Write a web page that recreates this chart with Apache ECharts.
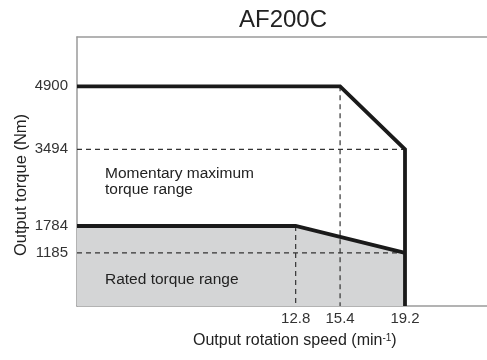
<!DOCTYPE html>
<html>
<head>
<meta charset="utf-8">
<script src="https://cdn.jsdelivr.net/npm/echarts@6/dist/echarts.min.js"></script>
<style>html,body{margin:0;padding:0;background:#fff}#c{width:487px;height:360px}</style>
</head>
<body>
<div id="c"></div>
<script>
// Data
var title = 'AF200C';
var yTicks = [1185, 1784, 3494, 4900];
var xTicks = [12.8, 15.4, 19.2];
var ratedCurve = [[0, 1784], [12.8, 1784], [19.2, 1185]];
var momentaryCurve = [[0, 4900], [15.4, 4900], [19.2, 3494], [19.2, 0]];
var guide3494 = [[0, 3494], [19.2, 3494]];
var guide1185 = [[0, 1185], [19.2, 1185]];
var guide128 = [[12.8, 1784], [12.8, 0]];
var guide154 = [[15.4, 4900], [15.4, 0]];
var labelMomentary = 'Momentary maximum\ntorque range';
var labelRated = 'Rated torque range';
var yName = 'Output torque (Nm)';

var FONT = '"Liberation Sans", Arial, Helvetica, sans-serif';
var chart = echarts.init(document.getElementById('c'), null, {renderer: 'canvas'});

function dashed(data) {
  return {
    type: 'line', data: data, symbol: 'none', silent: true, z: 3,
    lineStyle: {color: '#333', width: 1.2, type: [5, 4]}
  };
}

var option = {
  animation: false,
  backgroundColor: '#fff',
  grid: {left: 77, right: 0, top: 37, bottom: 54},
  xAxis: [{
    type: 'value', min: 0, max: 24,
    axisLine: {show: true, lineStyle: {color: '#9a9a9a', width: 1.5}},
    axisTick: {show: false},
    splitLine: {show: false},
    axisLabel: {customValues: xTicks, color: '#333', fontSize: 15, fontFamily: FONT, margin: 5,
      formatter: function (v) { return v.toFixed(1); }}
  }, {
    type: 'value', min: 0, max: 24, position: 'top',
    axisLine: {show: true, lineStyle: {color: '#9a9a9a', width: 1.5}},
    axisTick: {show: false}, axisLabel: {show: false}, splitLine: {show: false}
  }],
  yAxis: {
    type: 'value', min: 0, max: 6000,
    axisLine: {show: true, lineStyle: {color: '#9a9a9a', width: 1.5}},
    axisTick: {show: false},
    splitLine: {show: false},
    axisLabel: {customValues: yTicks, color: '#333', fontSize: 15, fontFamily: FONT, margin: 9,
      formatter: function (v) { return String(v); }}
  },
  series: [
    {
      type: 'line', data: ratedCurve, symbol: 'none', z: 1,
      lineStyle: {width: 0},
      areaStyle: {color: '#d4d5d6', opacity: 1}
    },
    dashed(guide3494),
    dashed(guide1185),
    dashed(guide128),
    dashed(guide154),
    {
      type: 'line', data: ratedCurve, symbol: 'none', z: 5,
      lineStyle: {color: '#1a1a1a', width: 3.8, join: 'miter'}
    },
    {
      type: 'line', data: momentaryCurve, symbol: 'none', z: 5,
      lineStyle: {color: '#1a1a1a', width: 3.8, join: 'miter'}
    }
  ],
  graphic: [
    {type: 'text', x: 283, y: 20, z: 10,
      style: {text: title, fontSize: 24, fontFamily: FONT, fill: '#222', align: 'center', verticalAlign: 'middle'}},
    {type: 'text', x: 105, y: 166, z: 10,
      style: {text: labelMomentary, fontSize: 15.5, lineHeight: 16, fontFamily: FONT, fill: '#222', align: 'left', verticalAlign: 'top'}},
    {type: 'text', x: 105, y: 280, z: 10,
      style: {text: labelRated, fontSize: 15.5, fontFamily: FONT, fill: '#222', align: 'left', verticalAlign: 'middle'}},
    {type: 'text', x: 21, y: 185, rotation: Math.PI / 2, z: 10,
      style: {text: yName, fontSize: 16.5, fontFamily: FONT, fill: '#222', align: 'center', verticalAlign: 'middle'}},
    {type: 'text', x: 193, y: 341, z: 10,
      style: {text: 'Output rotation speed (min{sup|-1})', fontSize: 16, fontFamily: FONT, fill: '#222',
        align: 'left', verticalAlign: 'middle',
        rich: {sup: {fontSize: 10, fontFamily: FONT, fill: '#222', verticalAlign: 'top', padding: [0, 0, 6, 0]}}}}
  ]
};
chart.setOption(option);
</script>
</body>
</html>
